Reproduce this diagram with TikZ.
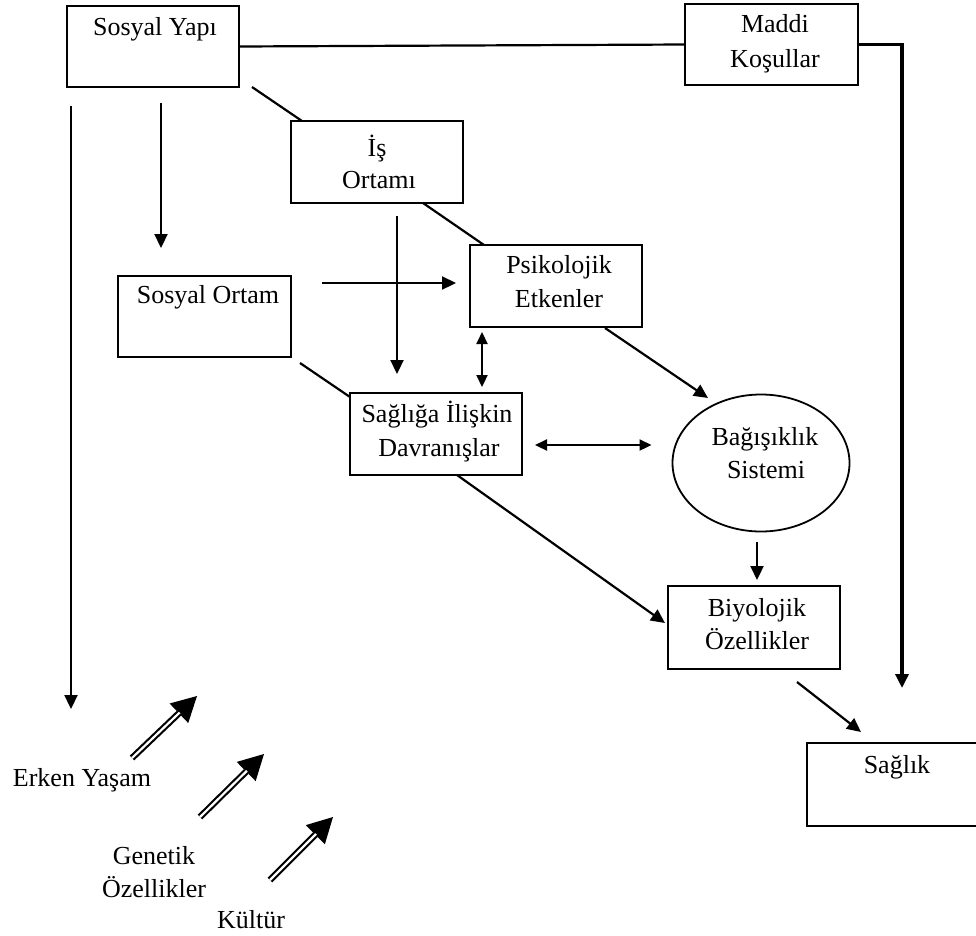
\documentclass[tikz,border=0pt]{standalone}
\usepackage{fontspec}
\setmainfont{Liberation Serif}
\usetikzlibrary{arrows.meta,calc,shapes.geometric}

\begin{document}
\begin{tikzpicture}[x=1pt,y=-1pt,
  box/.style={draw, line width=1.8pt, inner sep=0pt, outer sep=0pt},
  lbl/.style={font=\fontsize{26}{30}\selectfont, inner sep=0pt, anchor=base},
  link/.style={line width=2.2pt},
  arr/.style={link, -{Triangle[length=14pt,width=13pt]}},
  biarr/.style={link, {Triangle[length=12pt,width=11pt]}-{Triangle[length=12pt,width=11pt]}},
  fatarrow/.style={line width=6.5pt, -{Triangle[length=25pt,width=27pt,line width=0pt]}},
  fatgap/.style={white, line width=2.2pt, shorten >=24pt},
]
\useasboundingbox (0,0) rectangle (976,935);

% boxes
\node[box, minimum width=172pt, minimum height=81pt] (sy) at (153,46.5) {};
\node[box, minimum width=173pt, minimum height=81pt] (mk) at (771.5,44.5) {};
\node[box, minimum width=172pt, minimum height=82pt] (is) at (377,162) {};
\node[box, minimum width=172pt, minimum height=82pt] (ps) at (556,286) {};
\node[box, minimum width=173pt, minimum height=81pt] (so) at (204.5,316.5) {};
\node[box, minimum width=172pt, minimum height=82pt] (sd) at (436,434) {};
\node[box, ellipse, minimum width=177pt, minimum height=137pt] (bs) at (761,463) {};
\node[box, minimum width=172pt, minimum height=83pt] (bo) at (754,627.5) {};
\node[box, minimum width=173pt, minimum height=83pt] (sa) at (893.5,784.5) {};

% labels
\node[lbl] (sy-t) at (155,35) {Sosyal Yapı};
\node[lbl] (mk-t1) at (775,32) {Maddi};
\node[lbl] (mk-t2) at (775,67) {Koşullar};
\node[lbl] (is-t1) at (377,156) {İş};
\node[lbl] (is-t2) at (379,188) {Ortamı};
\node[lbl] (ps-t1) at (559,273) {Psikolojik};
\node[lbl] (ps-t2) at (559,307) {Etkenler};
\node[lbl] (so-t) at (208,303) {Sosyal Ortam};
\node[lbl] (sd-t1) at (437,422) {Sağlığa İlişkin};
\node[lbl] (sd-t2) at (439,456) {Davranışlar};
\node[lbl] (bs-t1) at (765,445) {Bağışıklık};
\node[lbl] (bs-t2) at (766,478) {Sistemi};
\node[lbl] (bo-t1) at (757,616) {Biyolojik};
\node[lbl] (bo-t2) at (757,649) {Özellikler};
\node[lbl] (sa-t) at (897,773) {Sağlık};
\node[lbl] (ey) at (82,786) {Erken Yaşam};
\node[lbl] (ge1) at (154,864) {Genetik};
\node[lbl] (ge2) at (154,897) {Özellikler};
\node[lbl] (ku) at (251,928) {Kültür};

% free ends
\coordinate (rv) at (902,688);
\coordinate (el) at (71,709);
\coordinate (a1) at (132,758); \coordinate (a2) at (197,696);
\coordinate (b1) at (200,817); \coordinate (b2) at (264,754);
\coordinate (c1) at (270,880); \coordinate (c2) at (333,817);

% plain links
\draw[link] (sy.east) -- (mk.west);
\draw[link] ($(sy.south east)+(13,0)$) -- ($(is.north west)+(11,0)$);
\draw[link] ($(is.south east)+(-40,0)$) -- ($(ps.north west)+(14,0)$);
\draw[link] ($(so.south east)+(9,6)$) -- ($(sd.north west)+(0,4)$);

% arrows
\draw[line width=3.4pt, line join=miter, -{Triangle[length=14pt,width=13pt]}] (mk.east) -| (rv);
\draw[arr] ($(sy.south west)+(4,19)$) -- (el);
\draw[arr] ($(sy.south)+(8,16)$) -- ($(so.north)+(-43.5,-28)$);
\draw[arr] ($(is.south)+(20,13)$) -- ($(sd.north west)+(47,-19)$);
\draw[arr] ($(so.north east)+(31,7)$) -- ($(ps.west)+(-14,-3)$);
\draw[biarr] ($(ps.south west)+(12,5)$) -- ($(sd.north east)+(-40,-6)$);
\draw[biarr] ($(sd.east)+(13,11)$) -- ($(bs.west)+(-21,-18)$);
\draw[arr] ($(ps.south east)+(-37,1)$) -- ($(bs.center)+(-53,-65)$);
\draw[arr] ($(sd.south)+(21,0)$) -- ($(bo.west)+(-3,-4.5)$);
\draw[arr] ($(bs.south)+(-4,10)$) -- ($(bo.north)+(3,-6)$);
\draw[arr] ($(bo.south east)+(-43,13)$) -- ($(sa.north west)+(54,-11)$);

% hollow influence arrows
\foreach \s/\e in {a1/a2, b1/b2, c1/c2} {
  \draw[fatarrow] (\s) -- (\e);
  \draw[fatgap] (\s) -- (\e);
}
\end{tikzpicture}
\end{document}
